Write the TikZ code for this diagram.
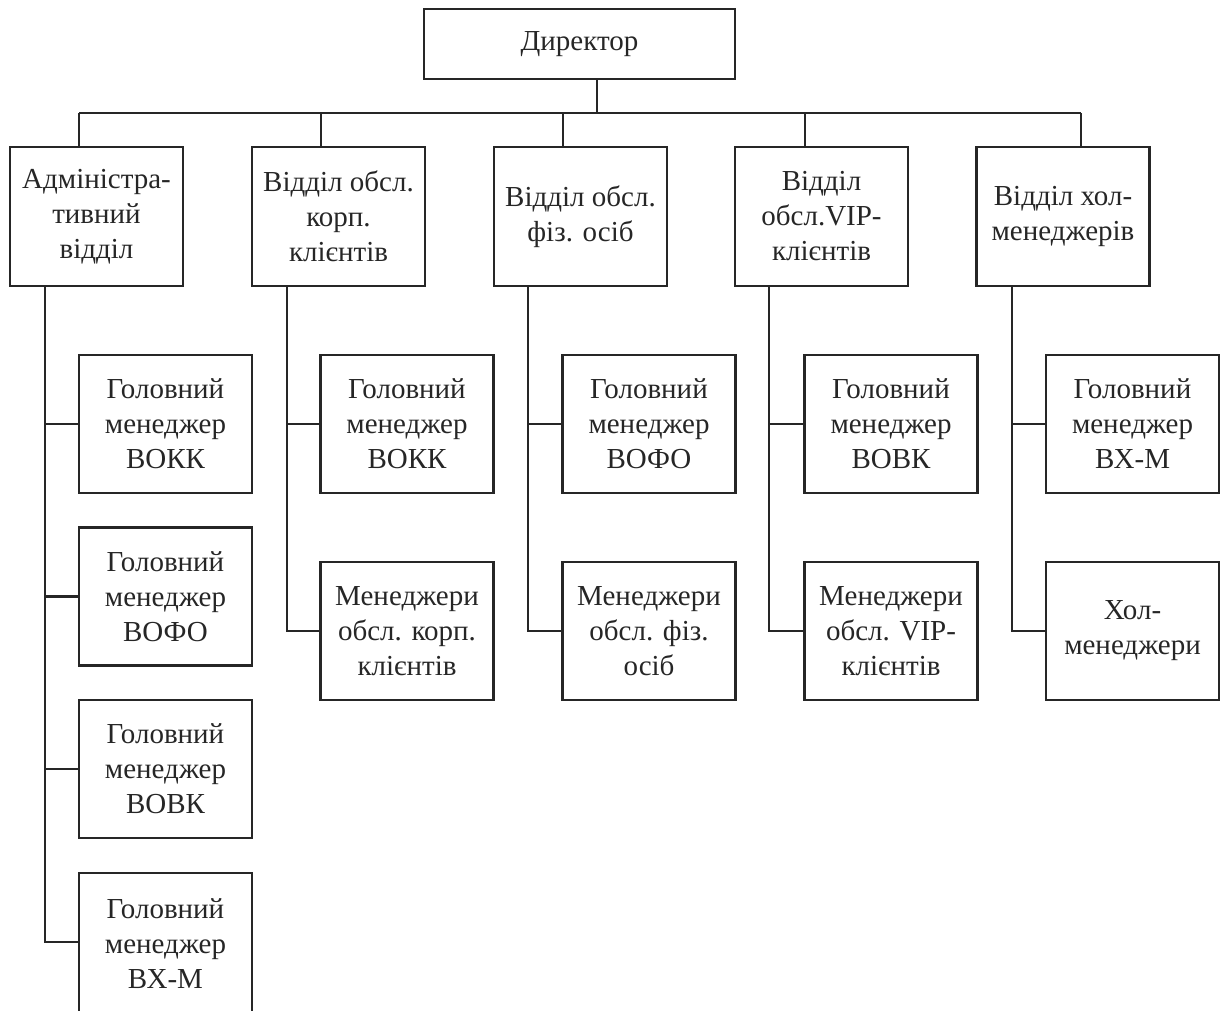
\documentclass[tikz,border=0pt]{standalone}
\usepackage{fontspec}
\setmainfont{Liberation Serif}
\begin{document}
\begin{tikzpicture}[x=1pt,y=-1pt,
  link/.style={line width=2.2pt, draw=black!85},
  box/.style={draw=black!85, line width=2.2pt, rectangle, inner sep=0pt,
    align=center, text=black!85, font=\fontsize{29}{35}\selectfont},
  dept/.style={box, minimum width=173pt, minimum height=139pt},
  unit/.style={box, minimum width=173pt, minimum height=138pt}]
\useasboundingbox (0,0) rectangle (1222,1010);
\clip (0,0) rectangle (1222,1010);

% top level
\node[box, minimum width=311pt, minimum height=70pt] (dir) at (579.5,44) {Директор};

% departments
\node[dept] (d1) at (96.5,216.5)  {Адміністра-\\тивний\\відділ};
\node[dept] (d2) at (338.5,216.5) {Відділ обсл.\\корп.\\клієнтів};
\node[dept] (d3) at (580.5,216.5) {Відділ обсл.\\фіз. осіб};
\node[dept] (d4) at (821.5,216.5) {Відділ\\обсл.VIP-\\клієнтів};
\node[dept] (d5) at (1063,216.5)  {Відділ хол-\\менеджерів};

% staff of the administrative department
\node[unit] (a1) at (165.5,424)   {Головний\\менеджер\\ВОКК};
\node[unit] (a2) at (165.5,596.5) {Головний\\менеджер\\ВОФО};
\node[unit] (a3) at (165.5,769)   {Головний\\менеджер\\ВОВК};
\node[unit, minimum height=142pt] (a4) at (165.5,944) {Головний\\менеджер\\ВХ-М};

% staff of the other departments
\node[unit] (b1) at (407,424) {Головний\\менеджер\\ВОКК};
\node[unit] (b2) at (407,631) {Менеджери\\обсл. корп.\\клієнтів};
\node[unit] (c1) at (649,424) {Головний\\менеджер\\ВОФО};
\node[unit] (c2) at (649,631) {Менеджери\\обсл. фіз.\\осіб};
\node[unit] (e1) at (891,424) {Головний\\менеджер\\ВОВК};
\node[unit] (e2) at (891,631) {Менеджери\\обсл. VIP-\\клієнтів};
\node[unit] (f1) at (1132.5,424) {Головний\\менеджер\\ВХ-М};
\node[unit] (f2) at (1132.5,631) {Хол-\\менеджери};

% bus under the director
\coordinate (p0) at (597,113);
\coordinate (p1) at (79,113);
\coordinate (p2) at (321,113);
\coordinate (p3) at (563,113);
\coordinate (p4) at (805,113);
\coordinate (p5) at (1081,113);
\draw[link] (p0 |- dir.south) -- (p0);
\draw[link] (p1) -- (p5);
\draw[link] (p1) -- (p1 |- d1.north);
\draw[link] (p2) -- (p2 |- d2.north);
\draw[link] (p3) -- (p3 |- d3.north);
\draw[link] (p4) -- (p4 |- d4.north);
\draw[link] (p5) -- (p5 |- d5.north);

% vertical trunks down from each department
\coordinate (t1) at (45,0);
\coordinate (t2) at (287,0);
\coordinate (t3) at (528,0);
\coordinate (t4) at (769,0);
\coordinate (t5) at (1012,0);
\draw[link] (t1 |- d1.south) |- ([yshift=2pt]a4.west);
\draw[link] (t1 |- a1.west) -- (a1.west);
\draw[link] (t1 |- a2.west) -- (a2.west);
\draw[link] (t1 |- a3.west) -- (a3.west);
\draw[link] (t2 |- d2.south) |- (b2.west);
\draw[link] (t2 |- b1.west) -- (b1.west);
\draw[link] (t3 |- d3.south) |- (c2.west);
\draw[link] (t3 |- c1.west) -- (c1.west);
\draw[link] (t4 |- d4.south) |- (e2.west);
\draw[link] (t4 |- e1.west) -- (e1.west);
\draw[link] (t5 |- d5.south) |- (f2.west);
\draw[link] (t5 |- f1.west) -- (f1.west);
\end{tikzpicture}
\end{document}
